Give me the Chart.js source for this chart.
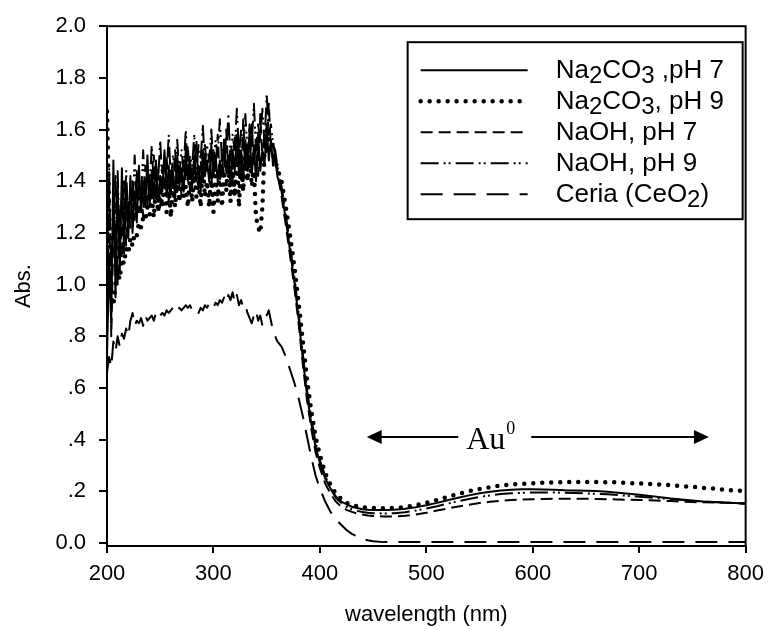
<!DOCTYPE html>
<html>
<head>
<meta charset="utf-8">
<script src="https://cdn.jsdelivr.net/npm/chart.js@4/dist/chart.umd.min.js"></script>
<style>
  html, body { margin: 0; padding: 0; background: #fff; }
  #wrap { width: 772px; height: 630px; }
</style>
</head>
<body>
<div id="wrap"><canvas id="uvChart" width="772" height="630"></canvas></div>
<script>
// wavelength (nm): 2 nm steps over the noisy UV part, coarser afterwards
const wavelengths = [
  200, 202, 204, 206, 208, 210, 212, 214, 216, 218,
  220, 222, 224, 226, 228, 230, 232, 234, 236, 238,
  240, 242, 244, 246, 248, 250, 252, 254, 256, 258,
  260, 262, 264, 266, 268, 270, 272, 274, 276, 278,
  280, 282, 284, 286, 288, 290, 292, 294, 296, 298,
  300, 302, 304, 306, 308, 310, 312, 314, 316, 318,
  320, 322, 324, 326, 328, 330, 332, 334, 336, 338,
  340, 342, 344, 346, 348, 350, 352, 354, 356, 358,
  360,
  364, 368, 372, 376, 380, 384, 388, 392, 396, 400,
  405, 410, 415, 420, 425, 430, 435, 440, 445, 450,
  460, 470, 480, 490, 500, 510, 520, 530, 540, 550,
  560, 570, 580, 590, 600, 610, 620, 630, 640, 650,
  660, 670, 680, 690, 700, 710, 720, 730, 740, 750,
  760, 770, 780, 790, 800
];

const na2co3Ph7 = [
  0.72, 1.10, 0.85, 1.48, 0.95, 1.40, 1.05, 1.45, 1.12, 1.38,
  1.18, 1.42, 1.20, 1.36, 1.24, 1.46, 1.28, 1.40, 1.30, 1.50,
  1.30, 1.44, 1.33, 1.48, 1.32, 1.42, 1.36, 1.52, 1.34, 1.46,
  1.36, 1.44, 1.34, 1.50, 1.38, 1.45, 1.36, 1.52, 1.40, 1.48,
  1.38, 1.50, 1.40, 1.46, 1.36, 1.52, 1.42, 1.48, 1.40, 1.54,
  1.42, 1.50, 1.40, 1.48, 1.42, 1.56, 1.44, 1.50, 1.38, 1.52,
  1.44, 1.58, 1.42, 1.52, 1.40, 1.56, 1.44, 1.60, 1.42, 1.54,
  1.40, 1.58, 1.44, 1.52, 1.46, 1.62, 1.48, 1.56, 1.46, 1.50,
  1.42,
  1.36, 1.25, 1.13, 1.01, 0.87, 0.71, 0.57, 0.46, 0.37, 0.31,
  0.25, 0.21, 0.18, 0.16, 0.15, 0.14, 0.135, 0.13, 0.128, 0.127,
  0.127, 0.128, 0.132, 0.138, 0.146, 0.155, 0.165, 0.175, 0.184, 0.192,
  0.198, 0.203, 0.206, 0.208, 0.208, 0.207, 0.206, 0.204, 0.203, 0.202,
  0.201, 0.198, 0.194, 0.190, 0.186, 0.182, 0.177, 0.172, 0.168, 0.164,
  0.160, 0.158, 0.156, 0.154, 0.152
];

const na2co3Ph9 = [
  1.67, 1.30, 0.95, 0.92, 1.00, 1.05, 1.02, 1.10, 1.08, 1.14,
  1.12, 1.18, 1.15, 1.20, 1.19, 1.24, 1.22, 1.26, 1.25, 1.30,
  1.27, 1.34, 1.26, 1.38, 1.28, 1.36, 1.30, 1.40, 1.28, 1.38,
  1.26, 1.40, 1.30, 1.42, 1.32, 1.44, 1.34, 1.38, 1.30, 1.42,
  1.32, 1.44, 1.34, 1.40, 1.30, 1.46, 1.34, 1.40, 1.30, 1.44,
  1.28, 1.42, 1.32, 1.46, 1.30, 1.44, 1.36, 1.48, 1.32, 1.46,
  1.34, 1.50, 1.30, 1.48, 1.36, 1.52, 1.40, 1.50, 1.38, 1.44,
  1.26, 1.22, 1.20, 1.30, 1.52, 1.60, 1.55, 1.52, 1.50, 1.48,
  1.45,
  1.40, 1.30, 1.19, 1.07, 0.93, 0.78, 0.63, 0.51, 0.41, 0.34,
  0.27, 0.225, 0.19, 0.17, 0.155, 0.147, 0.142, 0.138, 0.136, 0.135,
  0.134, 0.135, 0.139, 0.146, 0.155, 0.166, 0.178, 0.190, 0.200, 0.209,
  0.216, 0.222, 0.226, 0.229, 0.231, 0.233, 0.234, 0.235, 0.236, 0.236,
  0.236, 0.235, 0.234, 0.232, 0.230, 0.228, 0.226, 0.223, 0.220, 0.217,
  0.213, 0.210, 0.206, 0.203, 0.200
];

const naohPh7 = [
  0.95, 1.35, 0.80, 1.20, 1.42, 1.00, 1.30, 1.10, 1.40, 1.15,
  1.32, 1.22, 1.40, 1.25, 1.44, 1.28, 1.38, 1.26, 1.46, 1.30,
  1.42, 1.32, 1.50, 1.34, 1.44, 1.30, 1.46, 1.36, 1.50, 1.32,
  1.44, 1.38, 1.52, 1.36, 1.46, 1.34, 1.48, 1.40, 1.54, 1.36,
  1.46, 1.40, 1.56, 1.38, 1.48, 1.40, 1.54, 1.44, 1.50, 1.38,
  1.52, 1.44, 1.58, 1.40, 1.50, 1.42, 1.60, 1.44, 1.52, 1.40,
  1.58, 1.46, 1.54, 1.42, 1.64, 1.46, 1.54, 1.44, 1.62, 1.46,
  1.56, 1.42, 1.66, 1.48, 1.58, 1.50, 1.70, 1.52, 1.56, 1.48,
  1.44,
  1.34, 1.23, 1.11, 0.99, 0.85, 0.69, 0.55, 0.44, 0.35, 0.29,
  0.23, 0.19, 0.16, 0.14, 0.128, 0.12, 0.114, 0.11, 0.106, 0.104,
  0.102, 0.102, 0.105, 0.110, 0.117, 0.125, 0.133, 0.141, 0.148, 0.154,
  0.159, 0.163, 0.166, 0.168, 0.169, 0.170, 0.171, 0.171, 0.171, 0.171,
  0.170, 0.169, 0.168, 0.167, 0.166, 0.165, 0.163, 0.162, 0.160, 0.158,
  0.157, 0.156, 0.155, 0.154, 0.153
];

const naohPh9 = [
  0.80, 1.45, 1.00, 1.30, 1.12, 1.44, 1.15, 1.36, 1.20, 1.44,
  1.24, 1.36, 1.28, 1.50, 1.30, 1.40, 1.34, 1.52, 1.32, 1.44,
  1.36, 1.54, 1.38, 1.46, 1.40, 1.56, 1.38, 1.48, 1.42, 1.58,
  1.40, 1.50, 1.44, 1.56, 1.42, 1.52, 1.44, 1.60, 1.42, 1.50,
  1.46, 1.58, 1.44, 1.54, 1.48, 1.62, 1.46, 1.54, 1.48, 1.60,
  1.46, 1.56, 1.50, 1.64, 1.48, 1.56, 1.50, 1.66, 1.48, 1.58,
  1.52, 1.68, 1.50, 1.60, 1.52, 1.66, 1.50, 1.62, 1.54, 1.70,
  1.52, 1.62, 1.56, 1.68, 1.54, 1.74, 1.58, 1.62, 1.54, 1.52,
  1.46,
  1.38, 1.27, 1.15, 1.03, 0.89, 0.73, 0.59, 0.48, 0.39, 0.32,
  0.26, 0.21, 0.175, 0.155, 0.14, 0.13, 0.124, 0.12, 0.117, 0.115,
  0.114, 0.115, 0.119, 0.125, 0.133, 0.142, 0.152, 0.161, 0.170, 0.178,
  0.184, 0.189, 0.192, 0.194, 0.195, 0.195, 0.195, 0.194, 0.193, 0.192,
  0.190, 0.188, 0.185, 0.182, 0.179, 0.176, 0.172, 0.169, 0.166, 0.163,
  0.160, 0.158, 0.156, 0.154, 0.152
];

const ceria = [
  0.66, 0.72, 0.68, 0.78, 0.74, 0.80, 0.76, 0.81, 0.79, 0.83,
  0.80, 0.86, 0.89, 0.84, 0.86, 0.85, 0.87, 0.84, 0.88, 0.86,
  0.87, 0.88, 0.86, 0.89, 0.87, 0.88, 0.89, 0.88, 0.90, 0.89,
  0.90, 0.91, 0.89, 0.90, 0.91, 0.90, 0.91, 0.92, 0.91, 0.92,
  0.90, 0.91, 0.90, 0.89, 0.91, 0.90, 0.92, 0.91, 0.93, 0.92,
  0.91, 0.93, 0.92, 0.94, 0.93, 0.95, 0.93, 0.96, 0.94, 0.97,
  0.93, 0.96, 0.92, 0.94, 0.91, 0.92, 0.89, 0.87, 0.85, 0.88,
  0.90, 0.86, 0.88, 0.84, 0.86, 0.88, 0.90, 0.86, 0.82, 0.80,
  0.78,
  0.76, 0.72, 0.67, 0.62, 0.56, 0.49, 0.41, 0.33, 0.26, 0.21,
  0.16, 0.12, 0.09, 0.07, 0.05, 0.035, 0.025, 0.015, 0.01, 0.006,
  0.003, 0.003, 0.003, 0.003, 0.003, 0.003, 0.003, 0.003, 0.003, 0.003,
  0.003, 0.003, 0.003, 0.003, 0.003, 0.003, 0.003, 0.003, 0.003, 0.003,
  0.003, 0.003, 0.003, 0.003, 0.003, 0.003, 0.003, 0.003, 0.003, 0.003,
  0.003, 0.003, 0.003, 0.003, 0.003
];

const xTicks = [200, 300, 400, 500, 600, 700, 800];
const yTicks = [0, 0.2, 0.4, 0.6, 0.8, 1.0, 1.2, 1.4, 1.6, 1.8, 2.0];
const yTickLabels = ['0.0', '.2', '.4', '.6', '.8', '1.0', '1.2', '1.4', '1.6', '1.8', '2.0'];

// legend labels, split into [text, isSubscript] runs
const seriesLabels = [
  [['Na', 0], ['2', 1], ['CO', 0], ['3', 1], [' ,pH 7', 0]],
  [['Na', 0], ['2', 1], ['CO', 0], ['3', 1], [', pH 9', 0]],
  [['NaOH, pH 7', 0]],
  [['NaOH, pH 9', 0]],
  [['Ceria (CeO', 0], ['2', 1], [')', 0]]
];

const FONT = 'Arial, "Liberation Sans", Helvetica, sans-serif';
const SERIF = '"Liberation Serif", "Times New Roman", serif';

const seriesStyles = [
  { dash: [], width: 2, cap: 'butt' },
  { dash: [0, 9], width: 4.5, cap: 'round' },
  { dash: [12, 6], width: 2, cap: 'butt' },
  { dash: [18, 5, 2, 3, 2, 5], width: 2, cap: 'butt' },
  { dash: [22, 11], width: 2, cap: 'butt' }
];

const seriesValues = [na2co3Ph7, na2co3Ph9, naohPh7, naohPh9, ceria];

const datasets = seriesValues.map((vals, i) => ({
  label: seriesLabels[i].map(p => p[0]).join(''),
  data: wavelengths.map((w, j) => ({ x: w, y: vals[j] })),
  borderColor: '#000',
  borderWidth: seriesStyles[i].width,
  borderDash: seriesStyles[i].dash,
  borderCapStyle: seriesStyles[i].cap,
  borderJoinStyle: 'round',
  pointRadius: 0,
  tension: 0,
  fill: false
}));

const framePlugin = {
  id: 'frame',
  afterDraw(chart) {
    const { ctx, chartArea: a } = chart;
    ctx.save();
    ctx.strokeStyle = '#000';
    ctx.lineWidth = 2;
    ctx.strokeRect(a.left, a.top, a.right - a.left, a.bottom - a.top);
    ctx.restore();
  }
};

function drawRuns(ctx, runs, x, y) {
  let cx = x;
  runs.forEach(([text, sub]) => {
    ctx.font = (sub ? '24px ' : '26px ') + FONT;
    ctx.fillText(text, cx, sub ? y + 5 : y);
    cx += ctx.measureText(text).width;
  });
}

const legendPlugin = {
  id: 'boxLegend',
  afterDraw(chart) {
    const { ctx, chartArea: a } = chart;
    const right = a.right - 3, top = a.top + 16;
    const w = 335, h = 177;
    const left = right - w;
    ctx.save();
    ctx.fillStyle = '#fff';
    ctx.fillRect(left, top, w, h);
    ctx.strokeStyle = '#000';
    ctx.lineWidth = 2;
    ctx.strokeRect(left, top, w, h);
    ctx.fillStyle = '#000';
    ctx.textBaseline = 'alphabetic';
    seriesLabels.forEach((runs, i) => {
      const y = top + 28 + i * 31;
      const st = seriesStyles[i];
      ctx.beginPath();
      ctx.setLineDash(st.dash);
      ctx.lineCap = st.cap;
      ctx.lineWidth = st.width;
      ctx.moveTo(left + 13, y);
      ctx.lineTo(left + 120, y);
      ctx.stroke();
      ctx.setLineDash([]);
      drawRuns(ctx, runs, left + 148, y + 8);
    });
    ctx.restore();
  }
};

function arrowHead(ctx, tipX, y, dir) {
  ctx.beginPath();
  ctx.moveTo(tipX, y);
  ctx.lineTo(tipX - dir * 15, y - 7);
  ctx.lineTo(tipX - dir * 15, y + 7);
  ctx.closePath();
  ctx.fill();
}

const auPlugin = {
  id: 'auArrow',
  afterDatasetsDraw(chart) {
    const { ctx, scales: { x, y } } = chart;
    const yy = y.getPixelForValue(0.41);
    const x0 = x.getPixelForValue(444);
    const x1 = x.getPixelForValue(765.5);
    const textX = x.getPixelForValue(537.5);
    ctx.save();
    ctx.strokeStyle = '#000';
    ctx.fillStyle = '#000';
    ctx.lineWidth = 2;
    ctx.beginPath();
    ctx.moveTo(x0 + 5, yy);
    ctx.lineTo(textX - 8, yy);
    ctx.moveTo(textX + 65, yy);
    ctx.lineTo(x1 - 5, yy);
    ctx.stroke();
    arrowHead(ctx, x0, yy, -1);
    arrowHead(ctx, x1, yy, 1);
    ctx.textBaseline = 'alphabetic';
    ctx.font = '32px ' + SERIF;
    ctx.fillText('Au', textX, yy + 12);
    const wAu = ctx.measureText('Au').width;
    ctx.font = '18px ' + SERIF;
    ctx.fillText('0', textX + wAu + 1, yy - 3);
    ctx.restore();
  }
};

Chart.defaults.font.family = FONT;
Chart.defaults.color = '#000';

new Chart(document.getElementById('uvChart').getContext('2d'), {
  type: 'line',
  data: { datasets },
  options: {
    responsive: false,
    animation: false,
    layout: { padding: { top: 22, right: 21, left: 0, bottom: 0 } },
    plugins: { legend: { display: false }, tooltip: { enabled: false } },
    scales: {
      x: {
        type: 'linear',
        min: 200,
        max: 800,
        afterBuildTicks: s => { s.ticks = xTicks.map(v => ({ value: v })); },
        afterFit: s => { s.height = 84; },
        ticks: { font: { size: 22 }, color: '#000', padding: 8, maxRotation: 0 },
        grid: { drawOnChartArea: false, drawTicks: true, tickLength: 7, color: '#000', lineWidth: 2 },
        border: { color: '#000', width: 2 },
        title: { display: true, text: 'wavelength (nm)', font: { size: 22 }, color: '#000', padding: { top: 0, bottom: 2 } }
      },
      y: {
        type: 'linear',
        min: -0.012,
        max: 2.0,
        afterBuildTicks: s => { s.ticks = yTicks.map(v => ({ value: v })); },
        afterFit: s => { s.width = 107; },
        ticks: {
          font: { size: 22 },
          color: '#000',
          padding: 13,
          callback: (v) => {
            const k = yTicks.findIndex(t => Math.abs(t - v) < 1e-6);
            return k >= 0 ? yTickLabels[k] : '';
          }
        },
        grid: { drawOnChartArea: false, drawTicks: true, tickLength: 8, color: '#000', lineWidth: 2 },
        border: { color: '#000', width: 2 },
        title: { display: true, text: 'Abs.', font: { size: 22 }, color: '#000', padding: { top: 11, bottom: 0 } }
      }
    }
  },
  plugins: [framePlugin, legendPlugin, auPlugin]
});
</script>
</body>
</html>
